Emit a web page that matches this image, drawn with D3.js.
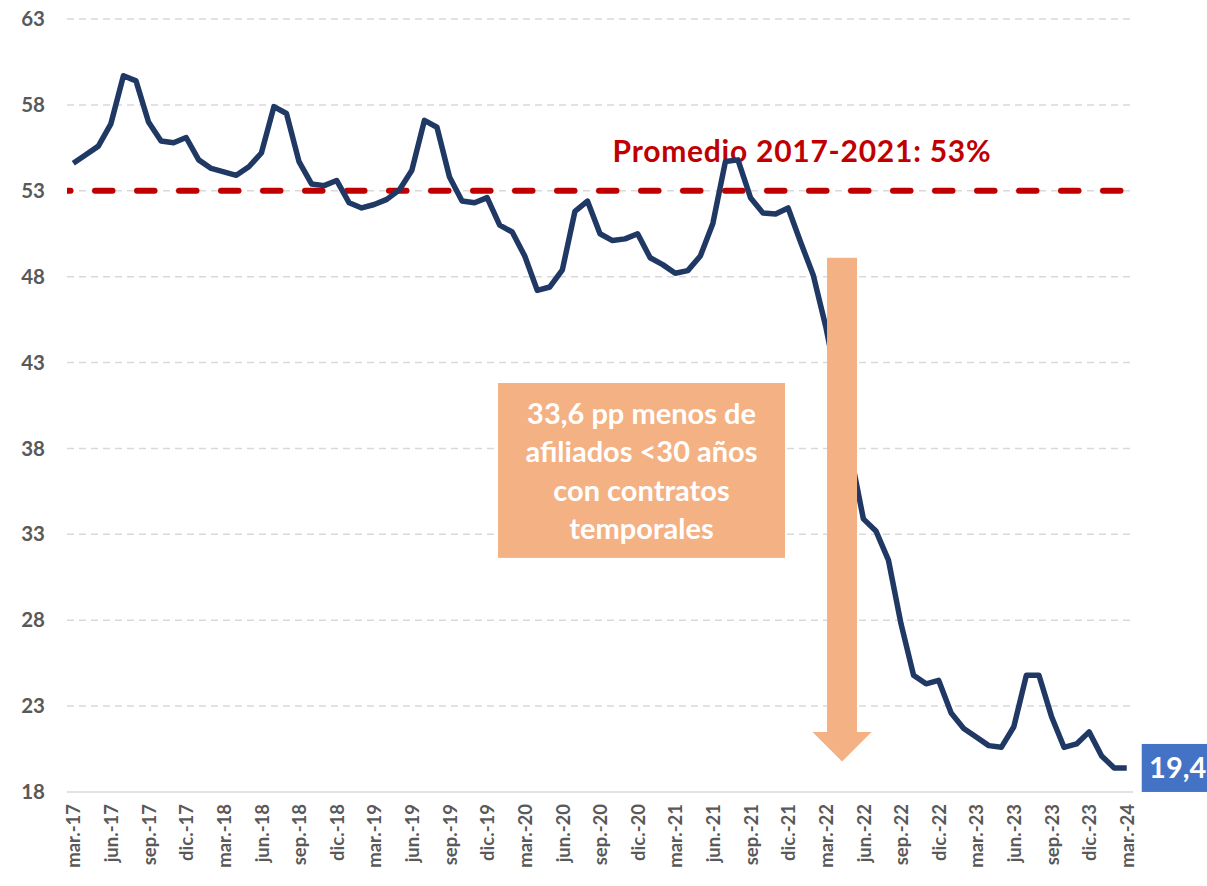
<!DOCTYPE html>
<html>
<head>
<meta charset="utf-8">
<script src="https://cdn.jsdelivr.net/npm/d3@7"></script>
<style>
  body { margin: 0; background: #fff; }
  svg { display: block; font-family: Lato, "Noto Sans", sans-serif; }
</style>
</head>
<body>
<svg id="box" width="1207" height="886"></svg>
<script>
// categories (monthly, mar-17 .. mar-24)
let months=["mar.-17","abr.-17","may.-17","jun.-17","jul.-17","ago.-17","sep.-17","oct.-17","nov.-17","dic.-17",
"ene.-18","feb.-18","mar.-18","abr.-18","may.-18","jun.-18","jul.-18","ago.-18","sep.-18","oct.-18","nov.-18","dic.-18",
"ene.-19","feb.-19","mar.-19","abr.-19","may.-19","jun.-19","jul.-19","ago.-19","sep.-19","oct.-19","nov.-19","dic.-19",
"ene.-20","feb.-20","mar.-20","abr.-20","may.-20","jun.-20","jul.-20","ago.-20","sep.-20","oct.-20","nov.-20","dic.-20",
"ene.-21","feb.-21","mar.-21","abr.-21","may.-21","jun.-21","jul.-21","ago.-21","sep.-21","oct.-21","nov.-21","dic.-21",
"ene.-22","feb.-22","mar.-22","abr.-22","may.-22","jun.-22","jul.-22","ago.-22","sep.-22","oct.-22","nov.-22","dic.-22",
"ene.-23","feb.-23","mar.-23","abr.-23","may.-23","jun.-23","jul.-23","ago.-23","sep.-23","oct.-23","nov.-23","dic.-23",
"ene.-24","feb.-24","mar.-24"];
// % temporales <30 años
let values=[54.6,55.1,55.6,56.9,59.7,59.4,57.0,55.9,55.8,56.1,
54.8,54.3,54.1,53.9,54.4,55.2,57.9,57.5,54.7,53.4,53.3,53.6,
52.3,52.0,52.2,52.5,53.05,54.2,57.1,56.7,53.8,52.4,52.3,52.6,
51.0,50.6,49.2,47.2,47.4,48.4,51.8,52.4,50.5,50.1,50.2,50.5,
49.1,48.7,48.2,48.35,49.2,51.1,54.7,54.8,52.6,51.7,51.65,52.0,
50.0,48.1,45.1,41.5,37.6,33.9,33.2,31.5,27.8,24.8,24.3,24.5,
22.6,21.7,21.2,20.7,20.6,21.8,24.8,24.8,22.4,20.6,20.8,21.5,
20.1,19.4,19.4];
let xTicks=["mar.-17","jun.-17","sep.-17","dic.-17","mar.-18","jun.-18","sep.-18","dic.-18","mar.-19","jun.-19","sep.-19","dic.-19",
"mar.-20","jun.-20","sep.-20","dic.-20","mar.-21","jun.-21","sep.-21","dic.-21","mar.-22","jun.-22","sep.-22","dic.-22",
"mar.-23","jun.-23","sep.-23","dic.-23","mar.-24"];
let yTicks=[18,23,28,33,38,43,48,53,58,63];
let avg=53;
let avgLabel="Promedio 2017-2021: 53%";
let boxLines=["33,6 pp menos de","afiliados <30 años","con contratos","temporales"];
let lastLabel="19,4";

let box=d3.select("#box");
let pLeft=67, pRight=1133, pTop=19, pBottom=792;
let xScale=d3.scalePoint().domain(months).range([pLeft,pRight]).padding(0.5);
let yScale=d3.scaleLinear().domain([18,63]).range([pBottom,pTop]);
let xi=i=>xScale(months[0])+i*xScale.step();
let grey="#595959";

box.append("defs").append("clipPath").attr("id","plot")
  .append("rect").attr("x",pLeft).attr("y",0).attr("width",pRight-pLeft).attr("height",pBottom);

// grid
box.append("g").selectAll("line").data(yTicks.filter(d=>d>18)).enter().append("line")
  .attr("x1",pLeft).attr("x2",pRight).attr("y1",d=>yScale(d)).attr("y2",d=>yScale(d))
  .style("stroke","#d9d9d9").style("stroke-width",1.5).style("stroke-dasharray","7,5");
box.append("line").attr("x1",pLeft).attr("x2",pRight).attr("y1",yScale(18)).attr("y2",yScale(18))
  .style("stroke","#d9d9d9").style("stroke-width",1.5);

// y axis
let yAxis=d3.axisLeft(yScale).tickValues(yTicks).tickSize(0).tickPadding(0);
let gy=box.append("g").attr("transform","translate(45,0)").call(yAxis);
gy.select(".domain").remove();
gy.selectAll("text").style("font-size","20.5px").style("font-weight","bold").style("fill",grey).style("font-family","Lato");

// x axis
let xAxis=d3.axisBottom(xScale).tickValues(xTicks).tickSize(0);
let gx=box.append("g").attr("transform","translate(0,"+pBottom+")").call(xAxis);
gx.select(".domain").remove();
gx.selectAll("text").attr("transform","rotate(-90)").attr("x",-12).attr("y",0).attr("dy","0.36em")
  .style("text-anchor","end").style("font-size","18.5px").style("font-weight","bold").style("fill",grey).style("font-family","Lato");

// average line
box.append("line").attr("clip-path","url(#plot)")
  .attr("x1",pLeft).attr("x2",pRight-6).attr("y1",yScale(avg)).attr("y2",yScale(avg))
  .style("stroke","#c00000").style("stroke-width",6).style("stroke-linecap","round")
  .style("stroke-dasharray","17.5,24.5").style("stroke-dashoffset",14);
box.append("text").attr("x",xi(43)).attr("y",yScale(avg)-29).text(avgLabel)
  .attr("textLength",378).attr("lengthAdjust","spacing")
  .style("fill","#c00000").style("font-size","30px").style("font-weight","bold");

// series line
let line=d3.line().x((d,i)=>xScale(months[i])).y(d=>yScale(d));
box.append("path").datum(values).attr("d",line)
  .style("fill","none").style("stroke","#203864").style("stroke-width",5.5)
  .style("stroke-linejoin","round").style("stroke-linecap","butt");

// arrow annotation
let ax=xi(61.3), aw=15, hw=29.5;
let arrowPts=[[ax-aw,yScale(49.1)],[ax+aw,yScale(49.1)],[ax+aw,yScale(21.5)],[ax+hw,yScale(21.5)],
  [ax,yScale(19.77)],[ax-hw,yScale(21.5)],[ax-aw,yScale(21.5)]];
box.append("polygon").attr("points",arrowPts.map(p=>p.join(",")).join(" ")).style("fill","#f4b183");

// text box
let bx0=xi(33.87), bx1=xi(56.75), by0=yScale(41.81), by1=yScale(31.63);
box.append("rect").attr("x",bx0).attr("y",by0).attr("width",bx1-bx0).attr("height",by1-by0).style("fill","#f4b183");
box.append("g").selectAll("text").data(boxLines).enter().append("text")
  .attr("x",(bx0+bx1)/2).attr("y",(d,i)=>by0+41+i*38.5).text(d=>d)
  .style("text-anchor","middle").style("fill","#fff").style("font-size","29px").style("font-weight","bold");

// last value label
let lx=xScale(months[months.length-1])+15, ly=yScale(values[values.length-1]);
box.append("rect").attr("x",lx).attr("y",ly-24).attr("width",1207-lx).attr("height",48).style("fill","#4472c4");
box.append("text").attr("x",lx+36).attr("y",ly).attr("dy","0.36em").text(lastLabel)
  .style("text-anchor","middle").style("fill","#fff").style("font-size","29px").style("font-weight","bold");
</script>
</body>
</html>
